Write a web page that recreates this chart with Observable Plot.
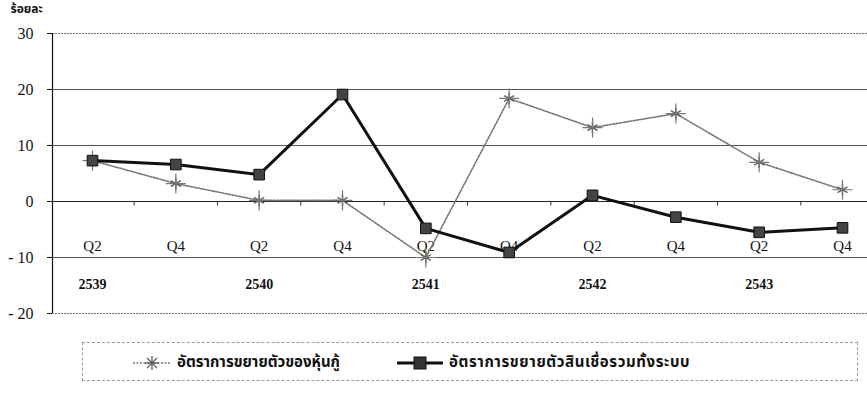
<!DOCTYPE html>
<html>
<head>
<meta charset="utf-8">
<script src="https://cdn.jsdelivr.net/npm/d3@7"></script>
<script src="https://cdn.jsdelivr.net/npm/@observablehq/plot@0.6"></script>
<style>
  html, body { margin: 0; padding: 0; background: #fff; }
  #wrap { position: relative; width: 867px; height: 395px; overflow: hidden; }
  #legend {
    position: absolute; left: 82px; top: 342px; width: 776px; height: 39px;
    border: 1px dashed #999; box-sizing: border-box;
    font-family: "Noto Sans Thai", "Loma", "Garuda", "Noto Sans", sans-serif;
    font-size: 15px; font-weight: bold; color: #111;
  }
  .item { position: absolute; top: 8px; display: flex; align-items: center; white-space: nowrap; }
  .item svg { margin-right: 6px; }
</style>
</head>
<body>
<div id="wrap">
  <div id="chart"></div>
  <div id="legend">
    <div class="item" style="left:50px">
      <svg width="38" height="16"><line x1="0" y1="8" x2="38" y2="8" stroke="#777" stroke-width="1.5" stroke-dasharray="2,1.5"/>
        <path d="M19,1V15M12,8H26M14,3L24,13M24,3L14,13" stroke="#666" stroke-width="1.4"/></svg>
      <span id="lab1"></span>
    </div>
    <div class="item" style="left:314px">
      <svg width="46" height="16"><line x1="0" y1="8" x2="46" y2="8" stroke="#111" stroke-width="3"/>
        <rect x="17" y="2" width="12" height="12" fill="#333" stroke="#111"/></svg>
      <span id="lab2" style="letter-spacing:0.6px"></span>
    </div>
  </div>
</div>
<script>
// Quarterly growth rates, 2539–2543 (percent)
const quarterLabels = ["Q2", "Q4", "Q2", "Q4", "Q2", "Q4", "Q2", "Q4", "Q2", "Q4"];
const yearLabels = ["2539", "2540", "2541", "2542", "2543"];
const yearIndex = [0, 2, 4, 6, 8];
const bondGrowth = [7.3, 3.2, 0.2, 0.2, -10.0, 18.4, 13.2, 15.7, 7.0, 2.1];
const creditGrowth = [7.3, 6.6, 4.8, 19.1, -4.8, -9.1, 1.1, -2.8, -5.5, -4.7];
const seriesNames = ["อัตราการขยายตัวของหุ้นกู้", "อัตราการขยายตัวสินเชื่อรวมทั้งระบบ"];
const yTicks = [30, 20, 10, 0, -10, -20];

document.getElementById("lab1").textContent = seriesNames[0];
document.getElementById("lab2").textContent = seriesNames[1];

const idx = quarterLabels.map((_, i) => i);
const bonds = idx.map(i => ({i, v: bondGrowth[i]}));
const credit = idx.map(i => ({i, v: creditGrowth[i]}));
const gaps = idx.slice(0, -1).map(i => i + 0.5);
const quarters = idx.map(i => ({i, q: quarterLabels[i]}));
const years = yearLabels.map((y, k) => ({i: yearIndex[k], y}));

const serif = "'Liberation Serif', 'DejaVu Serif', serif";

const chart = Plot.plot({
  width: 867,
  height: 330,
  marginLeft: 52,
  marginRight: 0,
  marginTop: 33,
  marginBottom: 17,
  style: {fontFamily: serif, fontSize: "14px", color: "#111", background: "#fff"},
  x: {type: "linear", domain: [0, 9], range: [92, 842], axis: null},
  y: {domain: [-20, 30], label: null},
  marks: [
    // horizontal gridlines; the frame edges at 30 and -20 are dotted
    Plot.ruleY([20, 10, -10], {stroke: "#555", strokeWidth: 1}),
    Plot.ruleY([0], {stroke: "#222", strokeWidth: 1.2}),
    Plot.ruleY([30, -20], {stroke: "#777", strokeWidth: 1, strokeDasharray: "2,1"}),
    Plot.ruleX(gaps, {y1: 0, y2: -0.8, stroke: "#333"}),
    Plot.axisY({ticks: yTicks, tickSize: 5, tickPadding: 14, fontSize: 16, fontFamily: serif, label: null,
      tickFormat: d => d < 0 ? "- " + Math.abs(d) : d}),
    Plot.ruleX([0], {x: () => -0.48, y1: -20, y2: 30, stroke: "#111", strokeWidth: 1.2}),
    // quarter and year labels inside the plot
    Plot.text(quarters, {x: "i", y: -8, text: "q", fontSize: 15, fill: "#111"}),
    Plot.text(years, {x: "i", y: -14.8, text: "y", fontSize: 14, fontWeight: "bold", fill: "#111"}),
    // bond growth: dotted grey line with star markers
    Plot.line(bonds, {x: "i", y: "v", stroke: "#777", strokeWidth: 1.6, strokeDasharray: "2,1.5"}),
    Plot.dot(bonds, {x: "i", y: "v", symbol: "asterisk", r: 5.5, stroke: "#666", strokeWidth: 1.5}),
    Plot.dot(bonds, {x: "i", y: "v", symbol: "plus", r: 6.5, stroke: "#777", strokeWidth: 1.2}),
    // total credit growth: thick black line with square markers
    Plot.line(credit, {x: "i", y: "v", stroke: "#111", strokeWidth: 3}),
    Plot.dot(credit, {x: "i", y: "v", symbol: "square", r: 6, fill: "#444", stroke: "#111", strokeWidth: 1}),
    Plot.text(["ร้อยละ"], {frameAnchor: "top-left", dx: -42, dy: -29, fontWeight: "bold", fontSize: 12,
      fontFamily: "'Noto Sans Thai', Loma, Garuda, sans-serif", textAnchor: "start", lineAnchor: "top"})
  ]
});
document.getElementById("chart").appendChild(chart);
</script>
</body>
</html>
